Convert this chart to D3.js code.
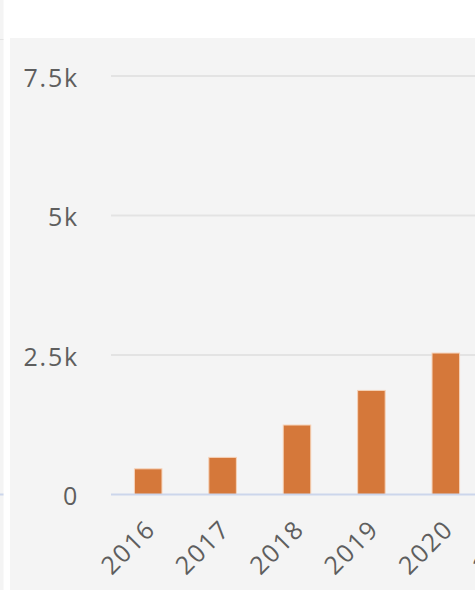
<!DOCTYPE html>
<html>
<head>
<meta charset="utf-8">
<script src="https://cdn.jsdelivr.net/npm/d3@7"></script>
<style>
  html, body { margin: 0; padding: 0; background: #fff; }
  svg { display: block; }
  text { font-family: "Open Sans", sans-serif; fill: #5e5e5e; }
</style>
</head>
<body>
<script>
// chart data
const years = ["2016", "2017", "2018", "2019", "2020", "2021"];
const counts = [460, 665, 1245, 1865, 2535, null]; // 2021 bar is cut off, value unknown
const yTicks = [0, 2500, 5000, 7500];
const yTickLabels = ["0", "2.5k", "5k", "7.5k"];

const width = 475, height = 590;
const plotLeft = 111, baseline = 494.5, plotTop = 76;
const step = 74.4;

const svg = d3.select("body").append("svg")
    .attr("width", width)
    .attr("height", height);

// sliver of the neighbouring panel on the left edge
svg.append("rect").attr("x", 0).attr("y", 0).attr("width", 3.5).attr("height", height).attr("fill", "#f4f4f4");
svg.append("line").attr("x1", 0).attr("x2", 3.5).attr("y1", 39.5).attr("y2", 39.5).attr("stroke", "#e3e3e3");
svg.append("line").attr("x1", 0).attr("x2", 3.5).attr("y1", 494.5).attr("y2", 494.5).attr("stroke", "#ccd6eb").attr("stroke-width", 2);

// this chart's panel
svg.append("rect")
    .attr("x", 10).attr("y", 38)
    .attr("width", width - 10).attr("height", height - 38)
    .attr("fill", "#f4f4f4");

const x = d3.scaleBand()
    .domain(years)
    .range([plotLeft, plotLeft + step * years.length])
    .paddingInner(0.63)
    .paddingOuter(0.315);

const y = d3.scaleLinear()
    .domain([0, 7500])
    .range([baseline, plotTop]);

// gridlines (not for 0, that is the axis line)
svg.append("g")
    .selectAll("line")
    .data(yTicks.filter(d => d > 0))
    .join("line")
    .attr("x1", plotLeft)
    .attr("x2", plotLeft + step * years.length)
    .attr("y1", d => y(d))
    .attr("y2", d => y(d))
    .attr("stroke", "#e3e3e3")
    .attr("stroke-width", 2);

// y labels
svg.append("g")
    .style("font-size", "25px")
    .style("letter-spacing", "1.8px")
    .attr("text-anchor", "end")
    .selectAll("text")
    .data(yTicks)
    .join("text")
    .attr("x", 79)
    .attr("y", d => y(d))
    .attr("dy", "0.43em")
    .text((d, i) => yTickLabels[i]);

// bars
const rows = years.map((yr, i) => ({ year: yr, value: counts[i] }));
svg.append("g")
    .selectAll("rect")
    .data(rows.filter(d => d.value != null))
    .join("rect")
    .attr("x", d => x(d.year))
    .attr("y", d => y(d.value))
    .attr("width", x.bandwidth())
    .attr("height", d => y(0) - y(d.value))
    .attr("fill", "#d5783a")
    .attr("stroke", "#f6d2b8")
    .attr("stroke-width", 1);

// x axis line
svg.append("line")
    .attr("x1", plotLeft)
    .attr("x2", plotLeft + step * years.length)
    .attr("y1", baseline)
    .attr("y2", baseline)
    .attr("stroke", "#ccd6eb")
    .attr("stroke-width", 2);

// x labels, rotated
svg.append("g")
    .style("font-size", "25px")
    .style("letter-spacing", "1.8px")
    .attr("text-anchor", "end")
    .selectAll("text")
    .data(years)
    .join("text")
    .attr("transform", d => `translate(${x(d) + x.bandwidth() / 2 + 9},${baseline + 36}) rotate(-45)`)
    .text(d => d);
</script>
</body>
</html>
